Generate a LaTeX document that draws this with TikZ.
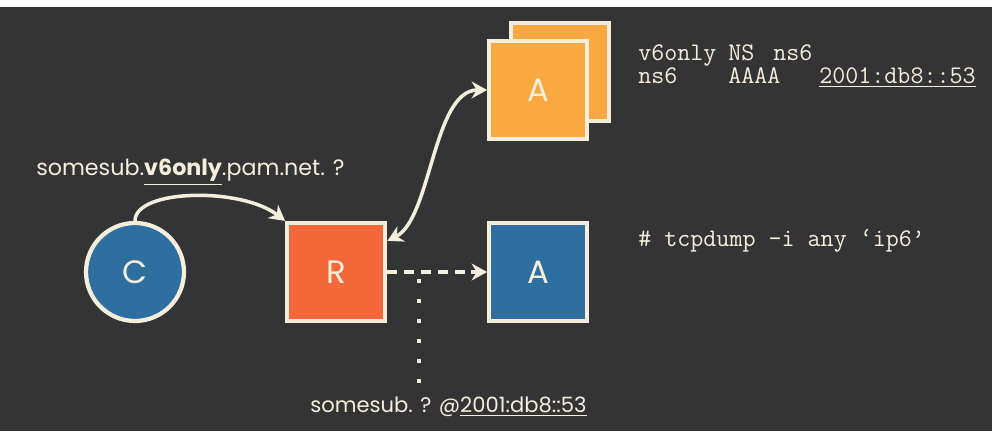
\documentclass[tikz,border=0pt]{standalone}
\usepackage{fontspec}
\setmainfont{Poppins}
\usetikzlibrary{arrows.meta,positioning,calc}

\definecolor{slate}{HTML}{343434}
\definecolor{cream}{HTML}{F6EEDC}
\definecolor{dnsblue}{HTML}{2F6F9F}
\definecolor{dnsred}{HTML}{F4683C}
\definecolor{dnsorange}{HTML}{F9A93F}

\tikzset{
  host/.style={draw=cream, line width=3pt, text=cream, inner sep=0pt,
    minimum size=2.45cm, font=\fontsize{23}{23}\selectfont},
  client/.style={host, circle, fill=dnsblue},
  resolver/.style={host, rectangle, fill=dnsred},
  authblue/.style={host, rectangle, fill=dnsblue},
  authorange/.style={host, rectangle, fill=dnsorange},
  flow/.style={draw=cream, line width=2.5pt},
  query/.style={text=cream, inner sep=0pt, anchor=base west,
    font=\fontsize{15}{18}\selectfont},
  zone/.style={text=cream, inner sep=0pt, anchor=base west,
    font=\ttfamily\fontsize{18}{20}\selectfont},
}

\begin{document}
\begin{tikzpicture}[node distance=5.03cm, >={Stealth[length=11pt,width=12pt]}]
          \fill[white] (0,0) rectangle (24.8,-10.925);
          \fill[slate] (0,-0.175) rectangle (24.8,-10.775);
          \useasboundingbox (0,0) rectangle (24.8,-10.925);

          \node[client] (C) at (3.375,-6.8) {C};
          \node[resolver] (R) [right of=C] {R};
          \node[authblue] (A6) [right of=R, node distance=5.05cm] {A};
          \node[authorange] (A4back) [above of=A6, node distance=5cm, xshift=0.55cm] {};
          \node[authorange] (A4) [above of=A6, node distance=4.55cm] {A};

          \node[query, font=\fontsize{15.8}{18}\selectfont] (ask) at (0.9,-4.4) {somesub.\textbf{\underline{v6only}}.pam.net. ?};
          \node[query] (dig) at (7.75,-10.325) {somesub. ? @\underline{2001:db8::53}};

          \node[zone] (ns1) at (15.95,-1.52) {v6only};
          \node[zone] (ns2) at (18.2,-1.52) {NS};
          \node[zone] (ns3) at (19.325,-1.52) {ns6};
          \node[zone] (aaaa1) at (15.95,-2.1) {ns6};
          \node[zone] (aaaa2) at (18.2,-2.1) {AAAA};
          \node[zone] (aaaa3) at (20.475,-2.1) {\underline{2001:db8::53}};
          \node[zone] (sniff) at (15.95,-6.175) {\# tcpdump -i any ‘ip6’};

          \coordinate (tap) at (10.475,-6.975);
          \coordinate (tapend) at (10.475,-9.575);

          \draw[flow, ->] (C.north) .. controls +(0,0.8) and +(-1.1,0.85) .. (R.north west);
          \draw[flow, <->] ([yshift=-0.5cm]R.north east) .. controls +(1.1,0.55) and +(-1.35,0) .. (A4.west);
          \draw[flow, line width=3pt, dash pattern=on 0.25cm off 0.17cm, ->] (R.east) -- (A6.west);
          \draw[cream, line width=0.1cm, dash pattern=on 0.1cm off 0.4cm] (tap) -- (tapend);
        \end{tikzpicture}
\end{document}
